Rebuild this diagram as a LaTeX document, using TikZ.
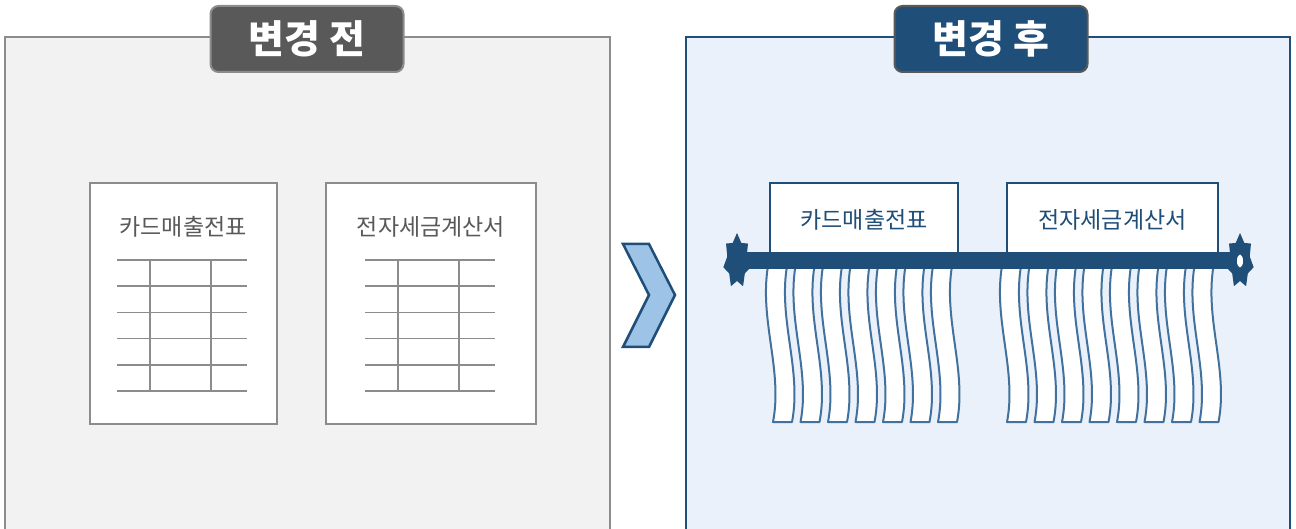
\documentclass[tikz,border=0pt]{standalone}
\usepackage{fontspec}
\setmainfont{Noto Sans CJK KR}
\usetikzlibrary{shapes.geometric}
\definecolor{navy}{HTML}{1F4E79}
\definecolor{stripline}{HTML}{41719C}
\definecolor{lightblue}{HTML}{EAF1FA}
\definecolor{chevfill}{HTML}{9DC3E6}
\definecolor{bggray}{HTML}{F2F2F2}
\definecolor{midgray}{HTML}{8C8C8C}
\definecolor{darkgray}{HTML}{595959}

\begin{document}
\begin{tikzpicture}[x=1pt,y=-1pt,
	tab/.style={rounded corners=8pt,line width=2pt,minimum width=193pt,minimum height=66pt,
		text=white,font=\fontsize{39}{44}\selectfont\bfseries},
	paper/.style={draw=midgray,fill=white,line width=2.5pt,inner sep=0pt},
	label/.style={font=\fontsize{23}{27}\selectfont,inner sep=0pt},
	grid/.style={midgray,line width=1.5pt},
	strip/.style={draw=stripline,fill=white,line width=2pt,line join=round},
	knob/.style={star,star points=7,star point ratio=1.4,fill=navy,inner sep=0pt,
		minimum size=56pt,xscale=0.5,transform shape}]
	\clip (0,0) rectangle (1296,529);
	% before
	\draw[line width=2pt,draw=midgray,fill=bggray] (5,37) rectangle (610,545);
	\node[tab,draw=midgray,fill=darkgray] (tabbefore) at (307,39) {변경 전};
	\node[paper,minimum width=187pt,minimum height=241pt] (docA) at (183.5,303.5) {};
	\node[paper,minimum width=210pt,minimum height=241pt] (docB) at (431,303.5) {};
	\node[label,text=darkgray] (titleA) at (183,227) {카드매출전표};
	\node[label,text=darkgray] (titleB) at (431,227) {전자세금계산서};
	\foreach \y in {260,286.2,312.4,338.6,364.8,391} {
		\draw[grid] (117,\y) -- (247,\y);
		\draw[grid] (365,\y) -- (495,\y);
	}
	\foreach \x in {150,211,398,459}
		\draw[grid] (\x,260) -- (\x,391);
	% arrow
	\draw[navy,fill=chevfill,line width=2.5pt,line join=miter]
		(623,244) -- (649,244) -- (675,295) -- (649,347) -- (623,347) -- (649,295) -- cycle;
	% after
	\draw[line width=2pt,draw=navy,fill=lightblue] (686,37) rectangle (1290,545);
	\node[tab,draw=darkgray,fill=navy] (tabafter) at (991,39) {변경 후};
	\node[paper,draw=navy,line width=2pt,minimum width=188pt,minimum height=75pt] (docC) at (864,220.5) {};
	\node[paper,draw=navy,line width=2pt,minimum width=211pt,minimum height=75pt] (docD) at (1112.5,220.5) {};
	\node[label,text=navy] (titleC) at (864,220) {카드매출전표};
	\node[label,text=navy] (titleD) at (1112.5,220) {전자세금계산서};
	% shredded strips
	\foreach \i in {0,...,6} {
		\pgfmathsetmacro\s{768+27.5*\i}
		\draw[strip] (\s,266) .. controls ({\s-9},320) and ({\s+15},370) .. ({\s+5},422)
			-- ({\s+24},422) .. controls ({\s+34},370) and ({\s+10},320) .. ({\s+19},266) -- cycle;
	}
	\foreach \i in {0,...,7} {
		\pgfmathsetmacro\s{1002+27.5*\i}
		\draw[strip] (\s,266) .. controls ({\s-9},320) and ({\s+15},370) .. ({\s+5},422)
			-- ({\s+24},422) .. controls ({\s+34},370) and ({\s+10},320) .. ({\s+19},266) -- cycle;
	}
	\node[knob] (lknob) at (737,261) {};
	\node[knob] (rknob) at (1240,261) {};
	\draw[navy,line width=17pt] (lknob.center) -- (rknob.center);
	\fill[white] (rknob.center) ellipse [x radius=3pt,y radius=6.5pt];
\end{tikzpicture}
\end{document}
